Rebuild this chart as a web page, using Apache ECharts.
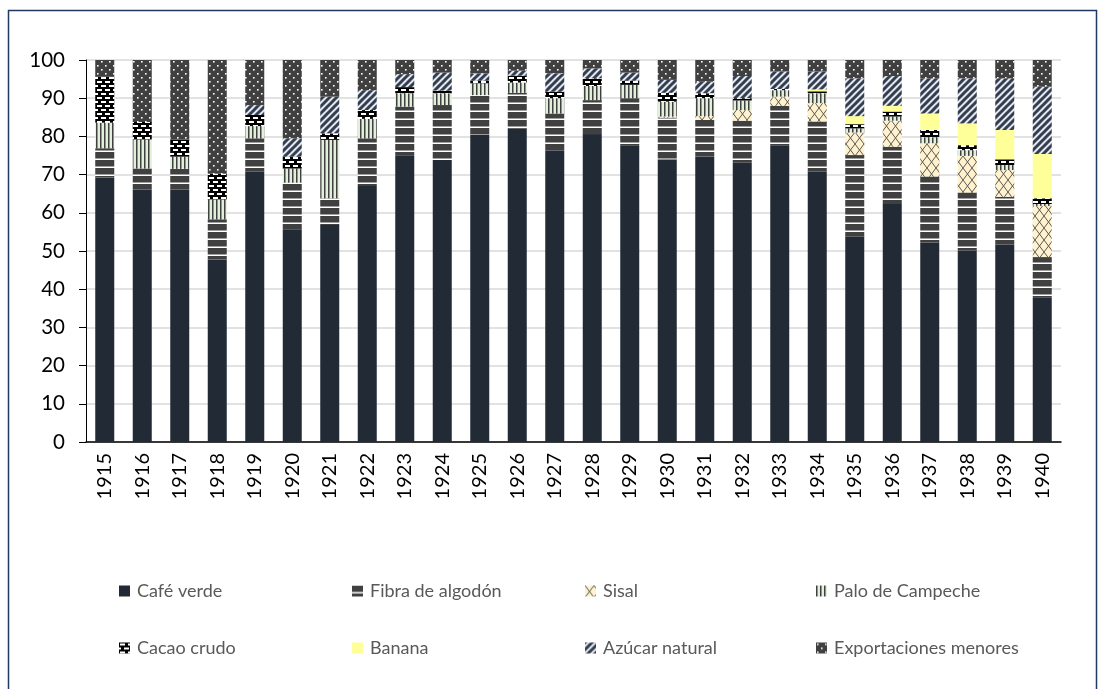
<!DOCTYPE html>
<html>
<head>
<meta charset="utf-8">
<script src="https://cdn.jsdelivr.net/npm/echarts@6/dist/echarts.min.js"></script>
<style>
  html, body { margin: 0; padding: 0; background: #ffffff; }
  #chart { width: 1100px; height: 689px; }
</style>
</head>
<body>
<div id="chart"></div>
<script>
// Export shares by product, percent of total, 1915-1940
const years = ['1915','1916','1917','1918','1919','1920','1921','1922','1923','1924','1925','1926','1927',
               '1928','1929','1930','1931','1932','1933','1934','1935','1936','1937','1938','1939','1940'];

const cafeVerde      = [69.2,66.1,66.1,47.8,70.8,55.7,56.8,67.0,74.9,73.8,80.5,82.0,76.4,80.6,77.7,74.0,74.7,73.1,77.7,70.8,53.7,62.3,52.2,50.1,51.7,37.9];
const fibraAlgodon   = [7.7,5.5,5.4,10.5,8.7,12.2,7.0,12.5,12.9,14.4,10.3,9.4,9.6,8.9,12.3,10.9,9.6,11.0,10.3,13.1,21.4,15.0,17.3,15.2,12.5,10.5];
const sisal          = [0,0,0,0,0,0,0,0,0,0,0,0,0,0,0,0.3,1.0,2.8,2.4,4.8,5.9,6.8,8.7,9.6,7.0,13.4];
const paloCampeche   = [6.7,7.6,3.2,5.2,3.2,3.7,15.3,5.1,3.5,3.1,3.1,2.7,4.0,3.7,3.5,3.9,4.7,2.5,1.7,2.6,1.1,1.1,1.6,1.5,1.3,0.5];
const cacaoCrudo     = [12.0,4.6,4.4,6.7,2.9,3.1,1.7,2.3,1.6,0.7,0.7,1.8,1.7,2.0,1.1,2.3,1.3,0.6,0.3,0.5,1.1,1.3,1.9,1.3,1.5,1.5];
const banana         = [0,0,0,0,0,0,0,0,0,0,0,0,0,0,0,0,0,0,0,0.5,2.1,1.5,4.3,5.7,7.7,11.6];
const azucarNatural  = [0,0,0,0,2.6,4.8,9.6,5.2,3.4,4.7,1.9,1.3,4.8,2.6,2.1,3.4,3.0,5.8,4.6,4.7,9.9,7.8,9.2,11.8,13.5,17.6];
const exportMenores  = [4.4,16.2,20.9,29.8,11.8,20.5,9.6,7.9,3.7,3.3,3.5,2.8,3.5,2.2,3.3,5.2,5.7,4.2,3.0,3.0,4.8,4.2,4.8,4.8,4.8,7.0];

const yTicks = { min: 0, max: 100, interval: 10 };

// Small tiles used as fill patterns for the bars
function tile(w, h, draw) {
  const c = document.createElement('canvas');
  c.width = w; c.height = h;
  draw(c.getContext('2d'), w, h);
  return { image: c, repeat: 'repeat' };
}

const patFibra = tile(8, 8, (g, w, h) => {
  g.fillStyle = '#404040'; g.fillRect(0, 0, w, h);
  g.fillStyle = '#ffffff'; g.fillRect(0, 6.5, w, 1.5);
});
const patSisal = tile(9, 12, (g, w, h) => {
  g.fillStyle = '#FFF2CC'; g.fillRect(0, 0, w, h);
  g.strokeStyle = '#5a5a5a'; g.lineWidth = 1;
  g.beginPath(); g.moveTo(0, 0); g.lineTo(w, h); g.moveTo(w, 0); g.lineTo(0, h); g.stroke();
});
const patPalo = tile(4, 4, (g, w, h) => {
  g.fillStyle = '#E2EFDA'; g.fillRect(0, 0, w, h);
  g.fillStyle = '#404040'; g.fillRect(0, 0, 1.5, h);
});
const patCacao = tile(8, 8, (g, w, h) => {
  g.fillStyle = '#000000'; g.fillRect(0, 0, w, h);
  g.fillStyle = '#ffffff';
  g.fillRect(1, 1, 5, 2);
  g.fillRect(5, 5, 3, 2); g.fillRect(0, 5, 2, 2);
});
const patAzucar = tile(7, 7, (g, w, h) => {
  g.fillStyle = '#E4E8EE'; g.fillRect(0, 0, w, h);
  g.strokeStyle = '#333F50'; g.lineWidth = 3;
  g.beginPath();
  for (let k = -w; k <= w; k += w) { g.moveTo(k - 1, h + 1); g.lineTo(k + w + 1, -1); }
  g.stroke();
});
const patExport = tile(8, 8, (g, w, h) => {
  g.fillStyle = '#404040'; g.fillRect(0, 0, w, h);
  g.fillStyle = '#ffffff';
  g.fillRect(1, 1, 1.6, 1.6);
  g.fillRect(5, 5, 1.6, 1.6);
});

const seriesDefs = [
  { name: 'Café verde',            data: cafeVerde,     color: '#222A35' },
  { name: 'Fibra de algodón',      data: fibraAlgodon,  color: patFibra },
  { name: 'Sisal',                 data: sisal,         color: patSisal },
  { name: 'Palo de Campeche',      data: paloCampeche,  color: patPalo },
  { name: 'Cacao crudo',           data: cacaoCrudo,    color: patCacao },
  { name: 'Banana',                data: banana,        color: '#FFFF99' },
  { name: 'Azúcar natural',        data: azucarNatural, color: patAzucar },
  { name: 'Exportaciones menores', data: exportMenores, color: patExport }
];

const font = 'Lato, "Open Sans", sans-serif';

// One legend per entry, laid out on a 4 x 2 grid
const legendCols = [119, 352, 585, 816];
const legendRows = [582, 639];
const legends = seriesDefs.map((s, i) => ({
  data: [s.name],
  left: legendCols[i % 4],
  top: legendRows[Math.floor(i / 4)],
  icon: 'rect',
  itemWidth: 11,
  itemHeight: 11,
  itemGap: 0,
  padding: 0,
  selectedMode: false,
  textStyle: { fontFamily: font, fontSize: 18, color: '#595959', padding: [0, 0, 0, 2] }
}));

const chart = echarts.init(document.getElementById('chart'), null, { renderer: 'canvas' });
chart.setOption({
  backgroundColor: '#ffffff',
  animation: false,
  graphic: [{
    type: 'rect',
    shape: { x: 8.5, y: 10.5, width: 1088, height: 700 },
    style: { fill: 'none', stroke: '#1F3864', lineWidth: 1.5 },
    silent: true
  }],
  legend: legends,
  grid: { left: 86, right: 39, top: 60, height: 382 },
  xAxis: {
    type: 'category',
    data: years,
    axisLine: { lineStyle: { color: '#000000', width: 1.5 } },
    axisTick: { show: false },
    axisLabel: { rotate: 90, margin: 11, fontFamily: font, fontSize: 20, color: '#000000' }
  },
  yAxis: {
    type: 'value',
    min: yTicks.min, max: yTicks.max, interval: yTicks.interval,
    axisLine: { show: true, lineStyle: { color: '#000000', width: 1 } },
    axisTick: { show: true, length: 7, lineStyle: { color: '#000000' } },
    axisLabel: { margin: 21, fontFamily: font, fontSize: 20.5, color: '#000000' },
    splitLine: { lineStyle: { color: '#D9D9D9', width: 1.5 } }
  },
  series: seriesDefs.map(s => ({
    name: s.name,
    type: 'bar',
    stack: 'total',
    barWidth: 19,
    data: s.data,
    itemStyle: { color: s.color },
    emphasis: { disabled: true }
  }))
});
</script>
</body>
</html>
